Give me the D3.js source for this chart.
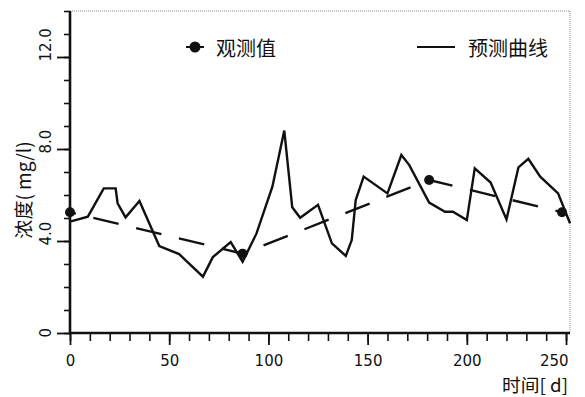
<!DOCTYPE html>
<html>
<head>
<meta charset="utf-8">
<script src="https://cdn.jsdelivr.net/npm/d3@7"></script>
<style>
  html, body { margin: 0; padding: 0; background: #fff; }
  svg { display: block; }
</style>
</head>
<body>
<svg id="chart" width="585" height="397"></svg>
<script>
// Predicted concentration curve (day, mg/l)
const predDays = [0, 9, 17, 23, 24, 28, 35, 45, 55, 67, 72, 81, 87, 94, 102, 108, 112, 116, 125, 132, 139, 142, 144, 148, 160, 167, 171, 181, 189, 193, 200, 204, 212, 220, 226, 231, 237, 246, 252];
const predValues = [4.84, 5.06, 6.29, 6.29, 5.64, 5.03, 5.74, 3.78, 3.43, 2.45, 3.3, 3.95, 3.1, 4.33, 6.36, 8.8, 5.47, 5.01, 5.57, 3.9, 3.35, 4.04, 5.78, 6.8, 6.07, 7.74, 7.3, 5.67, 5.27, 5.27, 4.91, 7.16, 6.54, 4.94, 7.2, 7.57, 6.8, 6.07, 4.77];

// Observed concentrations
const obsDays = [0, 87, 181, 248];
const obsValues = [5.25, 3.45, 6.65, 5.25];

// Axis ticks and labels
const xMajorTicks = [0, 50, 100, 150, 200, 250];
const yMajorTicks = [0, 4, 8, 12];
const yTickLabels = ["0", "4.0", "8.0", "12.0"];
const legendLabels = ["观测值", "预测曲线"];
const xTitle = "时间[ d]";
const yTitle = "浓度( mg/l)";

const svg = d3.select("#chart");
const plotLeft = 70, plotRight = 570, plotTop = 11, plotBottom = 333;

const x = d3.scaleLinear().domain([0, 252]).range([plotLeft, plotRight]);
const y = d3.scaleLinear().domain([0, 14]).range([plotBottom, plotTop]);

const ink = "#111";
const numFont = "'DejaVu Sans', sans-serif";
const cjkFont = "'Noto Sans CJK SC', sans-serif";

// Dotted frame on top and right
svg.append("path")
  .attr("d", `M${plotLeft},${plotTop}H${plotRight}V${plotBottom}`)
  .attr("fill", "none")
  .attr("stroke", "#888")
  .attr("stroke-width", 1)
  .attr("stroke-dasharray", "1,1");

// X axis: minor ticks every 10 days, long ticks every 50
const xAxisG = svg.append("g").attr("transform", `translate(0,${plotBottom})`);
xAxisG.call(d3.axisBottom(x).tickValues(d3.range(0, 251, 10)).tickSize(8).tickFormat(""));
xAxisG.call(g => g.select(".domain").remove());
xAxisG.selectAll(".tick line").attr("stroke", ink).attr("stroke-width", 1.6);
const xMajorG = svg.append("g").attr("transform", `translate(0,${plotBottom})`);
xMajorG.call(d3.axisBottom(x).tickValues(xMajorTicks).tickSize(12).tickPadding(10).tickFormat(d3.format("d")));
xMajorG.call(g => g.select(".domain").remove());
xMajorG.selectAll(".tick line").attr("stroke", ink).attr("stroke-width", 1.8);
xMajorG.selectAll(".tick text")
  .attr("font-family", numFont).attr("font-size", 15).attr("fill", ink);
xMajorG.selectAll(".tick").filter(d => d === 250).select("text")
  .attr("text-anchor", "end").attr("x", 2);

// Y axis: minor ticks every 1, long ticks every 4
const yAxisG = svg.append("g").attr("transform", `translate(${plotLeft},0)`);
yAxisG.call(d3.axisLeft(y).tickValues(d3.range(0, 15, 1)).tickSize(6).tickFormat(""));
yAxisG.call(g => g.select(".domain").remove());
yAxisG.selectAll(".tick line").attr("stroke", ink).attr("stroke-width", 1.6);
const yMajorG = svg.append("g").attr("transform", `translate(${plotLeft},0)`);
yMajorG.call(d3.axisLeft(y).tickValues(yMajorTicks).tickSize(13).tickFormat((d, i) => yTickLabels[i]));
yMajorG.call(g => g.select(".domain").remove());
yMajorG.selectAll(".tick line").attr("stroke", ink).attr("stroke-width", 1.8);
yMajorG.selectAll(".tick text")
  .attr("font-family", numFont).attr("font-size", 15).attr("fill", ink)
  .attr("text-anchor", "start").attr("dy", null)
  .attr("x", null)
  .attr("transform", "translate(-24,4) rotate(-90)")
  .attr("dominant-baseline", "central");

// Axis lines
svg.append("path")
  .attr("d", `M${plotLeft},${plotTop}V${plotBottom}H${plotRight}`)
  .attr("fill", "none").attr("stroke", ink).attr("stroke-width", 2.6);

// Observed series: dashed line with dot markers
const obs = obsDays.map((d, i) => [d, obsValues[i]]);
const line = d3.line().x(d => x(d[0])).y(d => y(d[1]));
svg.append("path")
  .datum(obs)
  .attr("d", line)
  .attr("fill", "none").attr("stroke", ink).attr("stroke-width", 2.4)
  .attr("stroke-dasharray", "26,18").attr("stroke-dashoffset", 20);

// Predicted curve
const pred = predDays.map((d, i) => [d, predValues[i]]);
svg.append("path")
  .datum(pred)
  .attr("d", line)
  .attr("fill", "none").attr("stroke", ink).attr("stroke-width", 2.4)
  .attr("stroke-linejoin", "miter");

svg.selectAll("circle.obs")
  .data(obs).enter().append("circle")
  .attr("class", "obs")
  .attr("cx", d => x(d[0])).attr("cy", d => y(d[1]))
  .attr("r", 5).attr("fill", ink);

// Legend
const lg = svg.append("g");
lg.append("line").attr("x1", 186).attr("x2", 204).attr("y1", 47).attr("y2", 47)
  .attr("stroke", ink).attr("stroke-width", 2);
lg.append("circle").attr("cx", 195).attr("cy", 47).attr("r", 5.5).attr("fill", ink);
lg.append("text").attr("x", 216).attr("y", 47).attr("dominant-baseline", "central")
  .attr("font-family", cjkFont).attr("font-size", 20).attr("fill", ink).text(legendLabels[0]);
lg.append("line").attr("x1", 417).attr("x2", 455).attr("y1", 47).attr("y2", 47)
  .attr("stroke", ink).attr("stroke-width", 2);
lg.append("text").attr("x", 468).attr("y", 47).attr("dominant-baseline", "central")
  .attr("font-family", cjkFont).attr("font-size", 20).attr("fill", ink).text(legendLabels[1]);

// Axis titles
svg.append("text").attr("x", 502).attr("y", 384)
  .attr("dominant-baseline", "central")
  .attr("textLength", 66).attr("lengthAdjust", "spacingAndGlyphs")
  .attr("font-family", cjkFont).attr("font-size", 18).attr("fill", ink).text(xTitle);
svg.append("text")
  .attr("transform", "translate(22,190) rotate(-90)")
  .attr("text-anchor", "middle").attr("dominant-baseline", "central")
  .attr("font-family", cjkFont).attr("font-size", 19).attr("fill", ink).text(yTitle);
</script>
</body>
</html>
